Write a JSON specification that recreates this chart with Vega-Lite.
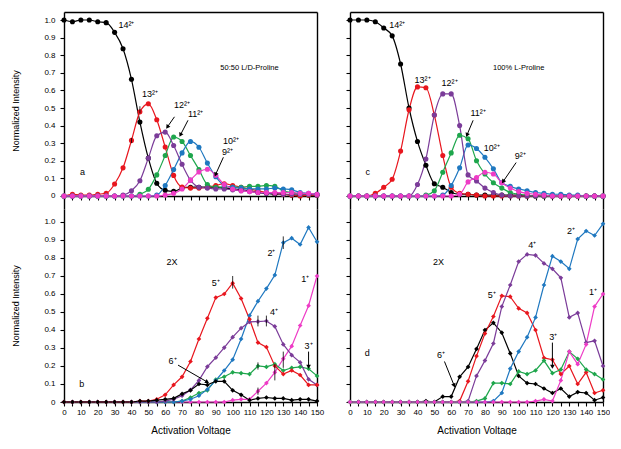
{
"$schema":"https://vega.github.io/schema/vega-lite/v6.json",
"padding":{"left":11,"top":12,"right":0,"bottom":0},
"config":{"font":"Liberation Sans","view":{"stroke":null},
"axis":{"grid":false,"domainColor":"#000","domainWidth":1.4,"tickColor":"#000","tickWidth":1.1,"tickSize":4,"labelColor":"#000","titleColor":"#000","labelFont":"Liberation Sans","titleFont":"Liberation Sans","labelFontSize":8,"titleFontWeight":"normal","labelPadding":5}},
"columns":2,
"spacing":{"row":0,"column":33},
"bounds":"flush",
"datasets":{
"a":[
{"s":"14","x":0,"y":1},{"s":"14","x":5,"y":0.99},{"s":"14","x":10,"y":1},{"s":"14","x":15,"y":1},{"s":"14","x":20,"y":0.99},{"s":"14","x":25,"y":0.985},{"s":"14","x":30,"y":0.93},{"s":"14","x":35,"y":0.837},{"s":"14","x":40,"y":0.663},{"s":"14","x":45,"y":0.42},{"s":"14","x":50,"y":0.215},{"s":"14","x":55,"y":0.072},{"s":"14","x":60,"y":0.032},{"s":"14","x":65,"y":0.026},{"s":"14","x":70,"y":0.045},{"s":"14","x":75,"y":0.05},{"s":"14","x":80,"y":0.05},{"s":"14","x":85,"y":0.05},{"s":"14","x":90,"y":0.05},{"s":"14","x":95,"y":0.045},{"s":"14","x":100,"y":0.04},{"s":"14","x":105,"y":0.035},{"s":"14","x":110,"y":0.03},{"s":"14","x":115,"y":0.02},{"s":"14","x":120,"y":0.015},{"s":"14","x":125,"y":0.01},{"s":"14","x":130,"y":0.01},{"s":"14","x":135,"y":0.005},{"s":"14","x":140,"y":0.005},{"s":"14","x":145,"y":0.005},{"s":"14","x":150,"y":0.005},
{"s":"13","x":0,"y":0},{"s":"13","x":5,"y":0.01},{"s":"13","x":10,"y":0.005},{"s":"13","x":15,"y":0.005},{"s":"13","x":20,"y":0.01},{"s":"13","x":25,"y":0.015},{"s":"13","x":30,"y":0.068},{"s":"13","x":35,"y":0.16},{"s":"13","x":40,"y":0.316},{"s":"13","x":45,"y":0.478},{"s":"13","x":50,"y":0.524},{"s":"13","x":55,"y":0.433},{"s":"13","x":60,"y":0.278},{"s":"13","x":65,"y":0.117},{"s":"13","x":70,"y":0.051},{"s":"13","x":75,"y":0.045},{"s":"13","x":80,"y":0.045},{"s":"13","x":85,"y":0.05},{"s":"13","x":90,"y":0.06},{"s":"13","x":95,"y":0.07},{"s":"13","x":100,"y":0.06},{"s":"13","x":105,"y":0.05},{"s":"13","x":110,"y":0.04},{"s":"13","x":115,"y":0.03},{"s":"13","x":120,"y":0.02},{"s":"13","x":125,"y":0.015},{"s":"13","x":130,"y":0.01},{"s":"13","x":135,"y":0.005},{"s":"13","x":140,"y":0},{"s":"13","x":145,"y":0.005},{"s":"13","x":150,"y":0.005},
{"s":"11","x":0,"y":0},{"s":"11","x":5,"y":0},{"s":"11","x":10,"y":0},{"s":"11","x":15,"y":0},{"s":"11","x":20,"y":0},{"s":"11","x":25,"y":0},{"s":"11","x":30,"y":0},{"s":"11","x":35,"y":0},{"s":"11","x":40,"y":0},{"s":"11","x":45,"y":0.01},{"s":"11","x":50,"y":0.038},{"s":"11","x":55,"y":0.12},{"s":"11","x":60,"y":0.23},{"s":"11","x":65,"y":0.335},{"s":"11","x":70,"y":0.31},{"s":"11","x":75,"y":0.23},{"s":"11","x":80,"y":0.15},{"s":"11","x":85,"y":0.065},{"s":"11","x":90,"y":0.05},{"s":"11","x":95,"y":0.05},{"s":"11","x":100,"y":0.05},{"s":"11","x":105,"y":0.05},{"s":"11","x":110,"y":0.055},{"s":"11","x":115,"y":0.055},{"s":"11","x":120,"y":0.06},{"s":"11","x":125,"y":0.055},{"s":"11","x":130,"y":0.03},{"s":"11","x":135,"y":0.02},{"s":"11","x":140,"y":0.01},{"s":"11","x":145,"y":0.01},{"s":"11","x":150,"y":0.01},
{"s":"10","x":0,"y":0},{"s":"10","x":5,"y":0},{"s":"10","x":10,"y":0},{"s":"10","x":15,"y":0},{"s":"10","x":20,"y":0},{"s":"10","x":25,"y":0},{"s":"10","x":30,"y":0},{"s":"10","x":35,"y":0},{"s":"10","x":40,"y":0},{"s":"10","x":45,"y":0},{"s":"10","x":50,"y":0},{"s":"10","x":55,"y":0.005},{"s":"10","x":60,"y":0.06},{"s":"10","x":65,"y":0.15},{"s":"10","x":70,"y":0.245},{"s":"10","x":75,"y":0.31},{"s":"10","x":80,"y":0.277},{"s":"10","x":85,"y":0.187},{"s":"10","x":90,"y":0.11},{"s":"10","x":95,"y":0.06},{"s":"10","x":100,"y":0.05},{"s":"10","x":105,"y":0.045},{"s":"10","x":110,"y":0.04},{"s":"10","x":115,"y":0.04},{"s":"10","x":120,"y":0.04},{"s":"10","x":125,"y":0.045},{"s":"10","x":130,"y":0.04},{"s":"10","x":135,"y":0.035},{"s":"10","x":140,"y":0.02},{"s":"10","x":145,"y":0.015},{"s":"10","x":150,"y":0.01},
{"s":"12","x":0,"y":0},{"s":"12","x":5,"y":0},{"s":"12","x":10,"y":0},{"s":"12","x":15,"y":0},{"s":"12","x":20,"y":0},{"s":"12","x":25,"y":0},{"s":"12","x":30,"y":0},{"s":"12","x":35,"y":0.005},{"s":"12","x":40,"y":0.03},{"s":"12","x":45,"y":0.087},{"s":"12","x":50,"y":0.215},{"s":"12","x":55,"y":0.342},{"s":"12","x":60,"y":0.363},{"s":"12","x":65,"y":0.287},{"s":"12","x":70,"y":0.18},{"s":"12","x":75,"y":0.09},{"s":"12","x":80,"y":0.05},{"s":"12","x":85,"y":0.045},{"s":"12","x":90,"y":0.04},{"s":"12","x":95,"y":0.04},{"s":"12","x":100,"y":0.035},{"s":"12","x":105,"y":0.03},{"s":"12","x":110,"y":0.025},{"s":"12","x":115,"y":0.02},{"s":"12","x":120,"y":0.015},{"s":"12","x":125,"y":0.015},{"s":"12","x":130,"y":0.01},{"s":"12","x":135,"y":0.01},{"s":"12","x":140,"y":0.01},{"s":"12","x":145,"y":0.01},{"s":"12","x":150,"y":0.005},
{"s":"9","x":0,"y":0},{"s":"9","x":5,"y":0},{"s":"9","x":10,"y":0},{"s":"9","x":15,"y":0},{"s":"9","x":20,"y":0},{"s":"9","x":25,"y":0},{"s":"9","x":30,"y":0},{"s":"9","x":35,"y":0},{"s":"9","x":40,"y":0},{"s":"9","x":45,"y":0},{"s":"9","x":50,"y":0},{"s":"9","x":55,"y":0},{"s":"9","x":60,"y":0.005},{"s":"9","x":65,"y":0.015},{"s":"9","x":70,"y":0.04},{"s":"9","x":75,"y":0.09},{"s":"9","x":80,"y":0.137},{"s":"9","x":85,"y":0.152},{"s":"9","x":90,"y":0.118},{"s":"9","x":95,"y":0.065},{"s":"9","x":100,"y":0.04},{"s":"9","x":105,"y":0.03},{"s":"9","x":110,"y":0.025},{"s":"9","x":115,"y":0.02},{"s":"9","x":120,"y":0.02},{"s":"9","x":125,"y":0.02},{"s":"9","x":130,"y":0.02},{"s":"9","x":135,"y":0.02},{"s":"9","x":140,"y":0.015},{"s":"9","x":145,"y":0.015},{"s":"9","x":150,"y":0.01}
],
"c":[
{"s":"14","x":0,"y":1},{"s":"14","x":5,"y":1},{"s":"14","x":10,"y":1},{"s":"14","x":15,"y":0.99},{"s":"14","x":20,"y":0.955},{"s":"14","x":25,"y":0.91},{"s":"14","x":30,"y":0.75},{"s":"14","x":35,"y":0.5},{"s":"14","x":40,"y":0.31},{"s":"14","x":45,"y":0.175},{"s":"14","x":50,"y":0.07},{"s":"14","x":55,"y":0.05},{"s":"14","x":60,"y":0.02},{"s":"14","x":65,"y":0.01},{"s":"14","x":70,"y":0.01},{"s":"14","x":75,"y":0.005},{"s":"14","x":80,"y":0.005},{"s":"14","x":85,"y":0.005},{"s":"14","x":90,"y":0.005},{"s":"14","x":95,"y":0.005},{"s":"14","x":100,"y":0.005},{"s":"14","x":105,"y":0},{"s":"14","x":110,"y":0},{"s":"14","x":115,"y":0},{"s":"14","x":120,"y":0},{"s":"14","x":125,"y":0},{"s":"14","x":130,"y":0},{"s":"14","x":135,"y":0},{"s":"14","x":140,"y":0},{"s":"14","x":145,"y":0},{"s":"14","x":150,"y":0},
{"s":"13","x":0,"y":0},{"s":"13","x":5,"y":0},{"s":"13","x":10,"y":0},{"s":"13","x":15,"y":0.015},{"s":"13","x":20,"y":0.05},{"s":"13","x":25,"y":0.095},{"s":"13","x":30,"y":0.255},{"s":"13","x":35,"y":0.49},{"s":"13","x":40,"y":0.62},{"s":"13","x":45,"y":0.615},{"s":"13","x":50,"y":0.46},{"s":"13","x":55,"y":0.23},{"s":"13","x":60,"y":0.05},{"s":"13","x":65,"y":0.015},{"s":"13","x":70,"y":0.01},{"s":"13","x":75,"y":0.005},{"s":"13","x":80,"y":0},{"s":"13","x":85,"y":0},{"s":"13","x":90,"y":0},{"s":"13","x":95,"y":0},{"s":"13","x":100,"y":0},{"s":"13","x":105,"y":0},{"s":"13","x":110,"y":0},{"s":"13","x":115,"y":0},{"s":"13","x":120,"y":0},{"s":"13","x":125,"y":0},{"s":"13","x":130,"y":0},{"s":"13","x":135,"y":0},{"s":"13","x":140,"y":0},{"s":"13","x":145,"y":0},{"s":"13","x":150,"y":0},
{"s":"11","x":0,"y":0},{"s":"11","x":5,"y":0},{"s":"11","x":10,"y":0},{"s":"11","x":15,"y":0},{"s":"11","x":20,"y":0},{"s":"11","x":25,"y":0},{"s":"11","x":30,"y":0},{"s":"11","x":35,"y":0},{"s":"11","x":40,"y":0},{"s":"11","x":45,"y":0.005},{"s":"11","x":50,"y":0.03},{"s":"11","x":55,"y":0.135},{"s":"11","x":60,"y":0.245},{"s":"11","x":65,"y":0.345},{"s":"11","x":70,"y":0.325},{"s":"11","x":75,"y":0.2},{"s":"11","x":80,"y":0.125},{"s":"11","x":85,"y":0.075},{"s":"11","x":90,"y":0.045},{"s":"11","x":95,"y":0.02},{"s":"11","x":100,"y":0.01},{"s":"11","x":105,"y":0.005},{"s":"11","x":110,"y":0},{"s":"11","x":115,"y":0},{"s":"11","x":120,"y":0},{"s":"11","x":125,"y":0},{"s":"11","x":130,"y":0},{"s":"11","x":135,"y":0},{"s":"11","x":140,"y":0},{"s":"11","x":145,"y":0},{"s":"11","x":150,"y":0},
{"s":"10","x":0,"y":0},{"s":"10","x":5,"y":0},{"s":"10","x":10,"y":0},{"s":"10","x":15,"y":0},{"s":"10","x":20,"y":0},{"s":"10","x":25,"y":0},{"s":"10","x":30,"y":0},{"s":"10","x":35,"y":0},{"s":"10","x":40,"y":0},{"s":"10","x":45,"y":0},{"s":"10","x":50,"y":0},{"s":"10","x":55,"y":0.005},{"s":"10","x":60,"y":0.06},{"s":"10","x":65,"y":0.16},{"s":"10","x":70,"y":0.29},{"s":"10","x":75,"y":0.27},{"s":"10","x":80,"y":0.22},{"s":"10","x":85,"y":0.155},{"s":"10","x":90,"y":0.075},{"s":"10","x":95,"y":0.055},{"s":"10","x":100,"y":0.04},{"s":"10","x":105,"y":0.03},{"s":"10","x":110,"y":0.02},{"s":"10","x":115,"y":0.015},{"s":"10","x":120,"y":0.01},{"s":"10","x":125,"y":0.01},{"s":"10","x":130,"y":0.005},{"s":"10","x":135,"y":0.005},{"s":"10","x":140,"y":0},{"s":"10","x":145,"y":0},{"s":"10","x":150,"y":0},
{"s":"12","x":0,"y":0},{"s":"12","x":5,"y":0},{"s":"12","x":10,"y":0},{"s":"12","x":15,"y":0},{"s":"12","x":20,"y":0},{"s":"12","x":25,"y":0},{"s":"12","x":30,"y":0},{"s":"12","x":35,"y":0},{"s":"12","x":40,"y":0.065},{"s":"12","x":45,"y":0.21},{"s":"12","x":50,"y":0.46},{"s":"12","x":55,"y":0.58},{"s":"12","x":60,"y":0.58},{"s":"12","x":65,"y":0.4},{"s":"12","x":70,"y":0.12},{"s":"12","x":75,"y":0.085},{"s":"12","x":80,"y":0.045},{"s":"12","x":85,"y":0.02},{"s":"12","x":90,"y":0.005},{"s":"12","x":95,"y":0},{"s":"12","x":100,"y":0},{"s":"12","x":105,"y":0},{"s":"12","x":110,"y":0},{"s":"12","x":115,"y":0},{"s":"12","x":120,"y":0},{"s":"12","x":125,"y":0},{"s":"12","x":130,"y":0},{"s":"12","x":135,"y":0},{"s":"12","x":140,"y":0},{"s":"12","x":145,"y":0},{"s":"12","x":150,"y":0},
{"s":"9","x":0,"y":0},{"s":"9","x":5,"y":0},{"s":"9","x":10,"y":0},{"s":"9","x":15,"y":0},{"s":"9","x":20,"y":0},{"s":"9","x":25,"y":0},{"s":"9","x":30,"y":0},{"s":"9","x":35,"y":0},{"s":"9","x":40,"y":0},{"s":"9","x":45,"y":0},{"s":"9","x":50,"y":0},{"s":"9","x":55,"y":0},{"s":"9","x":60,"y":0},{"s":"9","x":65,"y":0.01},{"s":"9","x":70,"y":0.08},{"s":"9","x":75,"y":0.105},{"s":"9","x":80,"y":0.135},{"s":"9","x":85,"y":0.125},{"s":"9","x":90,"y":0.075},{"s":"9","x":95,"y":0.045},{"s":"9","x":100,"y":0.025},{"s":"9","x":105,"y":0.015},{"s":"9","x":110,"y":0.01},{"s":"9","x":115,"y":0.005},{"s":"9","x":120,"y":0},{"s":"9","x":125,"y":0},{"s":"9","x":130,"y":0},{"s":"9","x":135,"y":0},{"s":"9","x":140,"y":0},{"s":"9","x":145,"y":0},{"s":"9","x":150,"y":0}
],
"b":[
{"s":"1","x":0,"y":0},{"s":"1","x":5,"y":0},{"s":"1","x":10,"y":0},{"s":"1","x":15,"y":0},{"s":"1","x":20,"y":0},{"s":"1","x":25,"y":0},{"s":"1","x":30,"y":0},{"s":"1","x":35,"y":0},{"s":"1","x":40,"y":0},{"s":"1","x":45,"y":0},{"s":"1","x":50,"y":0},{"s":"1","x":55,"y":0},{"s":"1","x":60,"y":0},{"s":"1","x":65,"y":0},{"s":"1","x":70,"y":0},{"s":"1","x":75,"y":0},{"s":"1","x":80,"y":0},{"s":"1","x":85,"y":0},{"s":"1","x":90,"y":0},{"s":"1","x":95,"y":0},{"s":"1","x":100,"y":0.01},{"s":"1","x":105,"y":0.015},{"s":"1","x":110,"y":0.015},{"s":"1","x":115,"y":0.06},{"s":"1","x":120,"y":0.105},{"s":"1","x":125,"y":0.165},{"s":"1","x":130,"y":0.24},{"s":"1","x":135,"y":0.31},{"s":"1","x":140,"y":0.425},{"s":"1","x":145,"y":0.535},{"s":"1","x":150,"y":0.7},
{"s":"3","x":0,"y":0},{"s":"3","x":5,"y":0},{"s":"3","x":10,"y":0},{"s":"3","x":15,"y":0},{"s":"3","x":20,"y":0},{"s":"3","x":25,"y":0},{"s":"3","x":30,"y":0},{"s":"3","x":35,"y":0},{"s":"3","x":40,"y":0},{"s":"3","x":45,"y":0},{"s":"3","x":50,"y":0},{"s":"3","x":55,"y":0},{"s":"3","x":60,"y":0},{"s":"3","x":65,"y":0},{"s":"3","x":70,"y":0.005},{"s":"3","x":75,"y":0.025},{"s":"3","x":80,"y":0.05},{"s":"3","x":85,"y":0.065},{"s":"3","x":90,"y":0.125},{"s":"3","x":95,"y":0.14},{"s":"3","x":100,"y":0.165},{"s":"3","x":105,"y":0.16},{"s":"3","x":110,"y":0.155},{"s":"3","x":115,"y":0.2},{"s":"3","x":120,"y":0.195},{"s":"3","x":125,"y":0.21},{"s":"3","x":130,"y":0.175},{"s":"3","x":135,"y":0.19},{"s":"3","x":140,"y":0.195},{"s":"3","x":145,"y":0.185},{"s":"3","x":150,"y":0.145},
{"s":"2","x":0,"y":0},{"s":"2","x":5,"y":0},{"s":"2","x":10,"y":0},{"s":"2","x":15,"y":0},{"s":"2","x":20,"y":0},{"s":"2","x":25,"y":0},{"s":"2","x":30,"y":0},{"s":"2","x":35,"y":0},{"s":"2","x":40,"y":0},{"s":"2","x":45,"y":0},{"s":"2","x":50,"y":0},{"s":"2","x":55,"y":0},{"s":"2","x":60,"y":0},{"s":"2","x":65,"y":0},{"s":"2","x":70,"y":0.005},{"s":"2","x":75,"y":0.015},{"s":"2","x":80,"y":0.035},{"s":"2","x":85,"y":0.07},{"s":"2","x":90,"y":0.12},{"s":"2","x":95,"y":0.175},{"s":"2","x":100,"y":0.235},{"s":"2","x":105,"y":0.35},{"s":"2","x":110,"y":0.48},{"s":"2","x":115,"y":0.56},{"s":"2","x":120,"y":0.63},{"s":"2","x":125,"y":0.705},{"s":"2","x":130,"y":0.885},{"s":"2","x":135,"y":0.91},{"s":"2","x":140,"y":0.875},{"s":"2","x":145,"y":0.97},{"s":"2","x":150,"y":0.89},
{"s":"4","x":0,"y":0},{"s":"4","x":5,"y":0},{"s":"4","x":10,"y":0},{"s":"4","x":15,"y":0},{"s":"4","x":20,"y":0},{"s":"4","x":25,"y":0},{"s":"4","x":30,"y":0},{"s":"4","x":35,"y":0},{"s":"4","x":40,"y":0},{"s":"4","x":45,"y":0},{"s":"4","x":50,"y":0},{"s":"4","x":55,"y":0},{"s":"4","x":60,"y":0.005},{"s":"4","x":65,"y":0.015},{"s":"4","x":70,"y":0.035},{"s":"4","x":75,"y":0.067},{"s":"4","x":80,"y":0.12},{"s":"4","x":85,"y":0.196},{"s":"4","x":90,"y":0.246},{"s":"4","x":95,"y":0.302},{"s":"4","x":100,"y":0.36},{"s":"4","x":105,"y":0.41},{"s":"4","x":110,"y":0.445},{"s":"4","x":115,"y":0.447},{"s":"4","x":120,"y":0.45},{"s":"4","x":125,"y":0.42},{"s":"4","x":130,"y":0.32},{"s":"4","x":135,"y":0.26},{"s":"4","x":140,"y":0.22},{"s":"4","x":145,"y":0.126},{"s":"4","x":150,"y":0.095},
{"s":"5","x":0,"y":0},{"s":"5","x":5,"y":0},{"s":"5","x":10,"y":0},{"s":"5","x":15,"y":0},{"s":"5","x":20,"y":0},{"s":"5","x":25,"y":0},{"s":"5","x":30,"y":0},{"s":"5","x":35,"y":0},{"s":"5","x":40,"y":0},{"s":"5","x":45,"y":0.005},{"s":"5","x":50,"y":0.005},{"s":"5","x":55,"y":0.015},{"s":"5","x":60,"y":0.04},{"s":"5","x":65,"y":0.095},{"s":"5","x":70,"y":0.14},{"s":"5","x":75,"y":0.225},{"s":"5","x":80,"y":0.35},{"s":"5","x":85,"y":0.465},{"s":"5","x":90,"y":0.58},{"s":"5","x":95,"y":0.6},{"s":"5","x":100,"y":0.66},{"s":"5","x":105,"y":0.575},{"s":"5","x":110,"y":0.46},{"s":"5","x":115,"y":0.33},{"s":"5","x":120,"y":0.305},{"s":"5","x":125,"y":0.2},{"s":"5","x":130,"y":0.155},{"s":"5","x":135,"y":0.175},{"s":"5","x":140,"y":0.15},{"s":"5","x":145,"y":0.095},{"s":"5","x":150,"y":0.095},
{"s":"6","x":0,"y":0},{"s":"6","x":5,"y":0},{"s":"6","x":10,"y":0},{"s":"6","x":15,"y":0},{"s":"6","x":20,"y":0},{"s":"6","x":25,"y":0},{"s":"6","x":30,"y":0},{"s":"6","x":35,"y":0},{"s":"6","x":40,"y":0},{"s":"6","x":45,"y":0.005},{"s":"6","x":50,"y":0.005},{"s":"6","x":55,"y":0.01},{"s":"6","x":60,"y":0.015},{"s":"6","x":65,"y":0.02},{"s":"6","x":70,"y":0.045},{"s":"6","x":75,"y":0.065},{"s":"6","x":80,"y":0.1},{"s":"6","x":85,"y":0.095},{"s":"6","x":90,"y":0.115},{"s":"6","x":95,"y":0.115},{"s":"6","x":100,"y":0.065},{"s":"6","x":105,"y":0.04},{"s":"6","x":110,"y":0.01},{"s":"6","x":115,"y":0.02},{"s":"6","x":120,"y":0.025},{"s":"6","x":125,"y":0.02},{"s":"6","x":130,"y":0.02},{"s":"6","x":135,"y":0.01},{"s":"6","x":140,"y":0.015},{"s":"6","x":145,"y":0.015},{"s":"6","x":150,"y":0.005}
],
"d":[
{"s":"6","x":0,"y":0},{"s":"6","x":5,"y":0},{"s":"6","x":10,"y":0},{"s":"6","x":15,"y":0},{"s":"6","x":20,"y":0},{"s":"6","x":25,"y":0},{"s":"6","x":30,"y":0},{"s":"6","x":35,"y":0},{"s":"6","x":40,"y":0},{"s":"6","x":45,"y":0.005},{"s":"6","x":50,"y":0},{"s":"6","x":55,"y":0.03},{"s":"6","x":60,"y":0.03},{"s":"6","x":65,"y":0.14},{"s":"6","x":70,"y":0.195},{"s":"6","x":75,"y":0.295},{"s":"6","x":80,"y":0.4},{"s":"6","x":85,"y":0.44},{"s":"6","x":90,"y":0.385},{"s":"6","x":95,"y":0.27},{"s":"6","x":100,"y":0.145},{"s":"6","x":105,"y":0.105},{"s":"6","x":110,"y":0.1},{"s":"6","x":115,"y":0.075},{"s":"6","x":120,"y":0.05},{"s":"6","x":125,"y":0.075},{"s":"6","x":130,"y":0.03},{"s":"6","x":135,"y":0.055},{"s":"6","x":140,"y":0.05},{"s":"6","x":145,"y":0.01},{"s":"6","x":150,"y":0.025},
{"s":"5","x":0,"y":0},{"s":"5","x":5,"y":0},{"s":"5","x":10,"y":0},{"s":"5","x":15,"y":0},{"s":"5","x":20,"y":0},{"s":"5","x":25,"y":0},{"s":"5","x":30,"y":0},{"s":"5","x":35,"y":0},{"s":"5","x":40,"y":0},{"s":"5","x":45,"y":0},{"s":"5","x":50,"y":0},{"s":"5","x":55,"y":0},{"s":"5","x":60,"y":0},{"s":"5","x":65,"y":0.005},{"s":"5","x":70,"y":0.115},{"s":"5","x":75,"y":0.255},{"s":"5","x":80,"y":0.38},{"s":"5","x":85,"y":0.475},{"s":"5","x":90,"y":0.59},{"s":"5","x":95,"y":0.585},{"s":"5","x":100,"y":0.52},{"s":"5","x":105,"y":0.495},{"s":"5","x":110,"y":0.4},{"s":"5","x":115,"y":0.245},{"s":"5","x":120,"y":0.235},{"s":"5","x":125,"y":0.155},{"s":"5","x":130,"y":0.2},{"s":"5","x":135,"y":0.1},{"s":"5","x":140,"y":0.165},{"s":"5","x":145,"y":0.05},{"s":"5","x":150,"y":0.065},
{"s":"4","x":0,"y":0},{"s":"4","x":5,"y":0},{"s":"4","x":10,"y":0},{"s":"4","x":15,"y":0},{"s":"4","x":20,"y":0},{"s":"4","x":25,"y":0},{"s":"4","x":30,"y":0},{"s":"4","x":35,"y":0},{"s":"4","x":40,"y":0},{"s":"4","x":45,"y":0},{"s":"4","x":50,"y":0},{"s":"4","x":55,"y":0},{"s":"4","x":60,"y":0},{"s":"4","x":65,"y":0},{"s":"4","x":70,"y":0.005},{"s":"4","x":75,"y":0.145},{"s":"4","x":80,"y":0.23},{"s":"4","x":85,"y":0.325},{"s":"4","x":90,"y":0.53},{"s":"4","x":95,"y":0.65},{"s":"4","x":100,"y":0.78},{"s":"4","x":105,"y":0.82},{"s":"4","x":110,"y":0.815},{"s":"4","x":115,"y":0.77},{"s":"4","x":120,"y":0.74},{"s":"4","x":125,"y":0.69},{"s":"4","x":130,"y":0.47},{"s":"4","x":135,"y":0.495},{"s":"4","x":140,"y":0.33},{"s":"4","x":145,"y":0.34},{"s":"4","x":150,"y":0.2},
{"s":"2","x":0,"y":0},{"s":"2","x":5,"y":0},{"s":"2","x":10,"y":0},{"s":"2","x":15,"y":0},{"s":"2","x":20,"y":0},{"s":"2","x":25,"y":0},{"s":"2","x":30,"y":0},{"s":"2","x":35,"y":0},{"s":"2","x":40,"y":0},{"s":"2","x":45,"y":0},{"s":"2","x":50,"y":0},{"s":"2","x":55,"y":0},{"s":"2","x":60,"y":0},{"s":"2","x":65,"y":0},{"s":"2","x":70,"y":0},{"s":"2","x":75,"y":0},{"s":"2","x":80,"y":0},{"s":"2","x":85,"y":0.005},{"s":"2","x":90,"y":0.05},{"s":"2","x":95,"y":0.185},{"s":"2","x":100,"y":0.28},{"s":"2","x":105,"y":0.36},{"s":"2","x":110,"y":0.47},{"s":"2","x":115,"y":0.65},{"s":"2","x":120,"y":0.81},{"s":"2","x":125,"y":0.78},{"s":"2","x":130,"y":0.74},{"s":"2","x":135,"y":0.905},{"s":"2","x":140,"y":0.95},{"s":"2","x":145,"y":0.925},{"s":"2","x":150,"y":0.99},
{"s":"3","x":0,"y":0},{"s":"3","x":5,"y":0},{"s":"3","x":10,"y":0},{"s":"3","x":15,"y":0},{"s":"3","x":20,"y":0},{"s":"3","x":25,"y":0},{"s":"3","x":30,"y":0},{"s":"3","x":35,"y":0},{"s":"3","x":40,"y":0},{"s":"3","x":45,"y":0},{"s":"3","x":50,"y":0},{"s":"3","x":55,"y":0},{"s":"3","x":60,"y":0},{"s":"3","x":65,"y":0},{"s":"3","x":70,"y":0},{"s":"3","x":75,"y":0.005},{"s":"3","x":80,"y":0.02},{"s":"3","x":85,"y":0.105},{"s":"3","x":90,"y":0.105},{"s":"3","x":95,"y":0.1},{"s":"3","x":100,"y":0.17},{"s":"3","x":105,"y":0.155},{"s":"3","x":110,"y":0.175},{"s":"3","x":115,"y":0.23},{"s":"3","x":120,"y":0.16},{"s":"3","x":125,"y":0.18},{"s":"3","x":130,"y":0.28},{"s":"3","x":135,"y":0.24},{"s":"3","x":140,"y":0.18},{"s":"3","x":145,"y":0.155},{"s":"3","x":150,"y":0.125},
{"s":"1","x":0,"y":0},{"s":"1","x":5,"y":0},{"s":"1","x":10,"y":0},{"s":"1","x":15,"y":0},{"s":"1","x":20,"y":0},{"s":"1","x":25,"y":0},{"s":"1","x":30,"y":0},{"s":"1","x":35,"y":0},{"s":"1","x":40,"y":0},{"s":"1","x":45,"y":0},{"s":"1","x":50,"y":0},{"s":"1","x":55,"y":0},{"s":"1","x":60,"y":0},{"s":"1","x":65,"y":0},{"s":"1","x":70,"y":0},{"s":"1","x":75,"y":0},{"s":"1","x":80,"y":0},{"s":"1","x":85,"y":0},{"s":"1","x":90,"y":0},{"s":"1","x":95,"y":0},{"s":"1","x":100,"y":0},{"s":"1","x":105,"y":0},{"s":"1","x":110,"y":0.005},{"s":"1","x":115,"y":0.015},{"s":"1","x":120,"y":0.005},{"s":"1","x":125,"y":0.12},{"s":"1","x":130,"y":0.28},{"s":"1","x":135,"y":0.21},{"s":"1","x":140,"y":0.32},{"s":"1","x":145,"y":0.53},{"s":"1","x":150,"y":0.6}
]
},
"concat":[
{"width":253,"height":197,
"layer":[
{"data":{"name":"a"},"mark":{"type":"line","interpolate":"monotone","strokeWidth":1.2},
"encoding":{"x":{"field":"x","type":"quantitative","scale":{"domain":[0,150],"nice":false,"zero":false},"axis":{"orient":"bottom","offset":-13,"values":[0,5,10,15,20,25,30,35,40,45,50,55,60,65,70,75,80,85,90,95,100,105,110,115,120,125,130,135,140,145,150],"labels":false,"title":null}},
"y":{"field":"y","type":"quantitative","scale":{"domain":[-0.0739,1.0455],"nice":false,"zero":false},"axis":{"orient":"left","values":[0,0.1,0.2,0.3,0.4,0.5,0.6,0.7,0.8,0.9,1],"labelExpr":"datum.value == 0 ? '0' : format(datum.value, '.1f')","title":"Normalized Intensity","titleFontSize":9,"titlePadding":23}},
"color":{"field":"s","type":"nominal","legend":null,"scale":{"domain":["14","13","12","11","10","9","6","5","4","3","2","1"],"range":["#000000","#e8161e","#7b3c99","#1ea64c","#1f78c0","#ee3cc6","#000000","#e8161e","#7b3c99","#1ea64c","#1f78c0","#ee3cc6"]}}}},
{"data":{"name":"a"},"mark":{"type":"point","filled":true,"opacity":1,"size":26},
"encoding":{"x":{"field":"x","type":"quantitative","scale":{"domain":[0,150],"nice":false,"zero":false},"axis":{"orient":"top","ticks":false,"labels":false,"title":null}},
"y":{"field":"y","type":"quantitative","scale":{"domain":[-0.0739,1.0455],"nice":false,"zero":false},"axis":{"orient":"right","ticks":false,"labels":false,"title":null}},
"color":{"field":"s","type":"nominal","legend":null}}},
{"data":{"values":[{"x":45,"lo":0.47,"hi":0.51},{"x":40,"lo":0.3,"hi":0.33}]},"mark":{"type":"rule","color":"#000","strokeWidth":0.8},
"encoding":{"x":{"field":"x","type":"quantitative","axis":null},"y":{"field":"lo","type":"quantitative","axis":null},"y2":{"field":"hi"}}},
{"data":{"values":[{"t":"14²⁺","x":37,"y":0.97},{"t":"13²⁺","x":51,"y":0.58},{"t":"12²⁺","x":70,"y":0.515},{"t":"11²⁺","x":78,"y":0.466},{"t":"10²⁺","x":99,"y":0.31},{"t":"9²⁺","x":97,"y":0.25},{"t":"a","x":11,"y":0.135}]},
"mark":{"type":"text","fontSize":9,"font":"Liberation Sans","color":"#000"},
"encoding":{"x":{"field":"x","type":"quantitative","axis":null},"y":{"field":"y","type":"quantitative","axis":null},"text":{"field":"t"}}},
{"data":{"values":[{"t":"50:50 L/D-Proline","x":110,"y":0.73}]},
"mark":{"type":"text","fontSize":7.5,"font":"Liberation Sans","color":"#000"},
"encoding":{"x":{"field":"x","type":"quantitative","axis":null},"y":{"field":"y","type":"quantitative","axis":null},"text":{"field":"t"}}},
{"data":{"values":[{"x":65.5,"y":0.45,"x2":61.5,"y2":0.395},{"x":73.5,"y":0.43,"x2":69.2,"y2":0.35},{"x":94.5,"y":0.22,"x2":90,"y2":0.125}]},
"mark":{"type":"rule","color":"#000","strokeWidth":1},
"encoding":{"x":{"field":"x","type":"quantitative","axis":null},"y":{"field":"y","type":"quantitative","axis":null},"x2":{"field":"x2"},"y2":{"field":"y2"}}},
{"data":{"values":[{"x":65.5,"y":0.45,"x2":61.5,"y2":0.395},{"x":73.5,"y":0.43,"x2":69.2,"y2":0.35},{"x":94.5,"y":0.22,"x2":90,"y2":0.125}]},
"transform":[{"calculate":"atan2((datum.x2-datum.x)*1.6867,(datum.y2-datum.y)*176)*180/PI","as":"ang"}],
"mark":{"type":"point","shape":"triangle","filled":true,"opacity":1,"color":"#000","size":22},
"encoding":{"x":{"field":"x2","type":"quantitative","axis":null},"y":{"field":"y2","type":"quantitative","axis":null},"angle":{"field":"ang","type":"quantitative","scale":null}}}
],
"resolve":{"axis":{"x":"independent","y":"independent"}}},

{"width":253,"height":197,
"layer":[
{"data":{"name":"c"},"mark":{"type":"line","interpolate":"monotone","strokeWidth":1.2},
"encoding":{"x":{"field":"x","type":"quantitative","scale":{"domain":[0,150],"nice":false,"zero":false},"axis":{"orient":"bottom","offset":-13,"values":[0,5,10,15,20,25,30,35,40,45,50,55,60,65,70,75,80,85,90,95,100,105,110,115,120,125,130,135,140,145,150],"labels":false,"title":null}},
"y":{"field":"y","type":"quantitative","scale":{"domain":[-0.0739,1.0455],"nice":false,"zero":false},"axis":{"orient":"left","values":[0,0.1,0.2,0.3,0.4,0.5,0.6,0.7,0.8,0.9,1],"labels":false,"title":null}},
"color":{"field":"s","type":"nominal","legend":null,"scale":{"domain":["14","13","12","11","10","9","6","5","4","3","2","1"],"range":["#000000","#e8161e","#7b3c99","#1ea64c","#1f78c0","#ee3cc6","#000000","#e8161e","#7b3c99","#1ea64c","#1f78c0","#ee3cc6"]}}}},
{"data":{"name":"c"},"mark":{"type":"point","filled":true,"opacity":1,"size":26},
"encoding":{"x":{"field":"x","type":"quantitative","scale":{"domain":[0,150],"nice":false,"zero":false},"axis":{"orient":"top","ticks":false,"labels":false,"title":null}},
"y":{"field":"y","type":"quantitative","scale":{"domain":[-0.0739,1.0455],"nice":false,"zero":false},"axis":{"orient":"right","ticks":false,"labels":false,"title":null}},
"color":{"field":"s","type":"nominal","legend":null}}},
{"data":{"values":[{"t":"14²⁺","x":28,"y":0.97},{"t":"13²⁺","x":43,"y":0.66},{"t":"12²⁺","x":59,"y":0.64},{"t":"11²⁺","x":76,"y":0.47},{"t":"10²⁺","x":84,"y":0.27},{"t":"9²⁺","x":101,"y":0.23},{"t":"c","x":10.5,"y":0.135}]},
"mark":{"type":"text","fontSize":9,"font":"Liberation Sans","color":"#000"},
"encoding":{"x":{"field":"x","type":"quantitative","axis":null},"y":{"field":"y","type":"quantitative","axis":null},"text":{"field":"t"}}},
{"data":{"values":[{"t":"100% L-Proline","x":100,"y":0.73}]},
"mark":{"type":"text","fontSize":7.5,"font":"Liberation Sans","color":"#000"},
"encoding":{"x":{"field":"x","type":"quantitative","axis":null},"y":{"field":"y","type":"quantitative","axis":null},"text":{"field":"t"}}},
{"data":{"values":[{"x":73,"y":0.43,"x2":69.5,"y2":0.35},{"x":98.5,"y":0.19,"x2":91,"y2":0.085}]},
"mark":{"type":"rule","color":"#000","strokeWidth":1},
"encoding":{"x":{"field":"x","type":"quantitative","axis":null},"y":{"field":"y","type":"quantitative","axis":null},"x2":{"field":"x2"},"y2":{"field":"y2"}}},
{"data":{"values":[{"x":73,"y":0.43,"x2":69.5,"y2":0.35},{"x":98.5,"y":0.19,"x2":91,"y2":0.085}]},
"transform":[{"calculate":"atan2((datum.x2-datum.x)*1.6867,(datum.y2-datum.y)*176)*180/PI","as":"ang"}],
"mark":{"type":"point","shape":"triangle","filled":true,"opacity":1,"color":"#000","size":22},
"encoding":{"x":{"field":"x2","type":"quantitative","axis":null},"y":{"field":"y2","type":"quantitative","axis":null},"angle":{"field":"ang","type":"quantitative","scale":null}}}
],
"resolve":{"axis":{"x":"independent","y":"independent"}}},

{"width":253,"height":193,
"layer":[
{"data":{"name":"b"},"mark":{"type":"line","strokeWidth":1.2},
"encoding":{"x":{"field":"x","type":"quantitative","scale":{"domain":[0,150],"nice":false,"zero":false},"axis":{"orient":"bottom","values":[0,5,10,15,20,25,30,35,40,45,50,55,60,65,70,75,80,85,90,95,100,105,110,115,120,125,130,135,140,145,150],"labelExpr":"datum.value % 10 == 0 ? datum.label : ''","labelOverlap":false,"labelFlush":false,"labelPadding":2,"title":"Activation Voltage","titleFontSize":10,"titlePadding":9}},
"y":{"field":"y","type":"quantitative","scale":{"domain":[0,1.0722],"nice":false,"zero":false},"axis":{"orient":"left","values":[0,0.1,0.2,0.3,0.4,0.5,0.6,0.7,0.8,0.9,1],"labelExpr":"datum.value == 0 ? '0' : format(datum.value, '.1f')","title":"Normalized Intensity","titleFontSize":9,"titlePadding":23}},
"color":{"field":"s","type":"nominal","legend":null,"scale":{"domain":["14","13","12","11","10","9","6","5","4","3","2","1"],"range":["#000000","#e8161e","#7b3c99","#1ea64c","#1f78c0","#ee3cc6","#000000","#e8161e","#7b3c99","#1ea64c","#1f78c0","#ee3cc6"]}}}},
{"data":{"name":"b"},"mark":{"type":"point","shape":"diamond","filled":true,"opacity":1,"size":22},
"encoding":{"x":{"field":"x","type":"quantitative","scale":{"domain":[0,150],"nice":false,"zero":false},"axis":null},
"y":{"field":"y","type":"quantitative","scale":{"domain":[0,1.0722],"nice":false,"zero":false},"axis":{"orient":"right","ticks":false,"labels":false,"title":null}},
"color":{"field":"s","type":"nominal","legend":null}}},
{"data":{"values":[{"x":100,"lo":0.63,"hi":0.7},{"x":130,"lo":0.85,"hi":0.92},{"x":115,"lo":0.42,"hi":0.48},{"x":120,"lo":0.42,"hi":0.48},{"x":125,"lo":0.12,"hi":0.21},{"x":130,"lo":0.19,"hi":0.28},{"x":115,"lo":0.04,"hi":0.08},{"x":115,"lo":0.18,"hi":0.22}]},"mark":{"type":"rule","color":"#000","strokeWidth":0.8},
"encoding":{"x":{"field":"x","type":"quantitative","axis":null},"y":{"field":"lo","type":"quantitative","axis":null},"y2":{"field":"hi"}}},
{"data":{"values":[{"t":"2X","x":64,"y":0.78},{"t":"5⁺","x":90,"y":0.66},{"t":"2⁺","x":123,"y":0.83},{"t":"1⁺","x":143,"y":0.685},{"t":"4⁺","x":124.5,"y":0.5},{"t":"3⁺","x":145,"y":0.31},{"t":"6⁺","x":64.4,"y":0.225},{"t":"b","x":10.5,"y":0.1}]},
"mark":{"type":"text","fontSize":9,"font":"Liberation Sans","color":"#000"},
"encoding":{"x":{"field":"x","type":"quantitative","axis":null},"y":{"field":"y","type":"quantitative","axis":null},"text":{"field":"t"}}},
{"data":{"values":[{"x":145,"y":0.28,"x2":145,"y2":0.2},{"x":67.6,"y":0.205,"x2":84.6,"y2":0.113}]},
"mark":{"type":"rule","color":"#000","strokeWidth":1},
"encoding":{"x":{"field":"x","type":"quantitative","axis":null},"y":{"field":"y","type":"quantitative","axis":null},"x2":{"field":"x2"},"y2":{"field":"y2"}}},
{"data":{"values":[{"x":145,"y":0.28,"x2":145,"y2":0.2},{"x":67.6,"y":0.205,"x2":84.6,"y2":0.113}]},
"transform":[{"calculate":"atan2((datum.x2-datum.x)*1.6867,(datum.y2-datum.y)*180)*180/PI","as":"ang"}],
"mark":{"type":"point","shape":"triangle","filled":true,"opacity":1,"color":"#000","size":22},
"encoding":{"x":{"field":"x2","type":"quantitative","axis":null},"y":{"field":"y2","type":"quantitative","axis":null},"angle":{"field":"ang","type":"quantitative","scale":null}}}
],
"resolve":{"axis":{"x":"independent","y":"independent"}}},

{"width":253,"height":193,
"layer":[
{"data":{"name":"d"},"mark":{"type":"line","strokeWidth":1.2},
"encoding":{"x":{"field":"x","type":"quantitative","scale":{"domain":[0,150],"nice":false,"zero":false},"axis":{"orient":"bottom","values":[0,5,10,15,20,25,30,35,40,45,50,55,60,65,70,75,80,85,90,95,100,105,110,115,120,125,130,135,140,145,150],"labelExpr":"datum.value % 10 == 0 ? datum.label : ''","labelOverlap":false,"labelFlush":false,"labelPadding":2,"title":"Activation Voltage","titleFontSize":10,"titlePadding":9}},
"y":{"field":"y","type":"quantitative","scale":{"domain":[0,1.0722],"nice":false,"zero":false},"axis":{"orient":"left","values":[0,0.1,0.2,0.3,0.4,0.5,0.6,0.7,0.8,0.9,1],"labels":false,"title":null}},
"color":{"field":"s","type":"nominal","legend":null,"scale":{"domain":["14","13","12","11","10","9","6","5","4","3","2","1"],"range":["#000000","#e8161e","#7b3c99","#1ea64c","#1f78c0","#ee3cc6","#000000","#e8161e","#7b3c99","#1ea64c","#1f78c0","#ee3cc6"]}}}},
{"data":{"name":"d"},"mark":{"type":"point","shape":"diamond","filled":true,"opacity":1,"size":22},
"encoding":{"x":{"field":"x","type":"quantitative","scale":{"domain":[0,150],"nice":false,"zero":false},"axis":null},
"y":{"field":"y","type":"quantitative","scale":{"domain":[0,1.0722],"nice":false,"zero":false},"axis":{"orient":"right","ticks":false,"labels":false,"title":null}},
"color":{"field":"s","type":"nominal","legend":null}}},
{"data":{"values":[{"t":"2X","x":52.4,"y":0.78},{"t":"4⁺","x":108,"y":0.87},{"t":"2⁺","x":131,"y":0.95},{"t":"5⁺","x":84,"y":0.595},{"t":"1⁺","x":144,"y":0.61},{"t":"3⁺","x":120.5,"y":0.36},{"t":"6⁺","x":54,"y":0.26},{"t":"d","x":10.3,"y":0.27}]},
"mark":{"type":"text","fontSize":9,"font":"Liberation Sans","color":"#000"},
"encoding":{"x":{"field":"x","type":"quantitative","axis":null},"y":{"field":"y","type":"quantitative","axis":null},"text":{"field":"t"}}},
{"data":{"values":[{"x":120,"y":0.33,"x2":120,"y2":0.2},{"x":56,"y":0.225,"x2":61.6,"y2":0.095}]},
"mark":{"type":"rule","color":"#000","strokeWidth":1},
"encoding":{"x":{"field":"x","type":"quantitative","axis":null},"y":{"field":"y","type":"quantitative","axis":null},"x2":{"field":"x2"},"y2":{"field":"y2"}}},
{"data":{"values":[{"x":120,"y":0.33,"x2":120,"y2":0.2},{"x":56,"y":0.225,"x2":61.6,"y2":0.095}]},
"transform":[{"calculate":"atan2((datum.x2-datum.x)*1.6867,(datum.y2-datum.y)*180)*180/PI","as":"ang"}],
"mark":{"type":"point","shape":"triangle","filled":true,"opacity":1,"color":"#000","size":22},
"encoding":{"x":{"field":"x2","type":"quantitative","axis":null},"y":{"field":"y2","type":"quantitative","axis":null},"angle":{"field":"ang","type":"quantitative","scale":null}}}
],
"resolve":{"axis":{"x":"independent","y":"independent"}}}
]
}
